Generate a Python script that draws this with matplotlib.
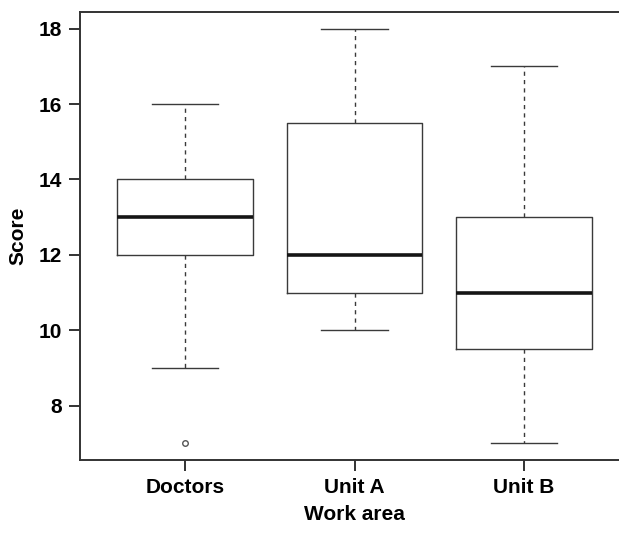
import matplotlib
matplotlib.use("Agg")
import matplotlib.pyplot as plt

groups = ["Doctors", "Unit A", "Unit B"]
whisker_low = [9, 10, 7]
q1 = [12, 11, 9.5]
median = [13, 12, 11]
q3 = [14, 15.5, 13]
whisker_high = [16, 18, 17]
outliers = [[7], [], []]

plt.rcParams["font.family"] = ["Liberation Sans", "DejaVu Sans"]
plt.rcParams["font.weight"] = "bold"

fig = plt.figure(figsize=(6.19, 5.48), dpi=100)
ax = fig.add_axes([80 / 619, 88 / 548, (629 - 80) / 619, (460 - 12) / 548])

stats = []
for i, g in enumerate(groups):
    stats.append({
        "label": g, "whislo": whisker_low[i], "q1": q1[i], "med": median[i],
        "q3": q3[i], "whishi": whisker_high[i], "fliers": outliers[i],
    })

line_col = "#3a3a3a"
ax.bxp(stats, positions=[1, 2, 3], widths=0.8,
       boxprops=dict(color=line_col, linewidth=1.0),
       medianprops=dict(color="#151515", linewidth=2.6),
       whiskerprops=dict(color=line_col, linewidth=1.0, linestyle=(0, (3, 3))),
       capprops=dict(color=line_col, linewidth=1.0),
       capwidths=0.39,
       flierprops=dict(marker="o", markersize=4, markerfacecolor="none",
                       markeredgecolor="#555555", markeredgewidth=1.0))

ax.set_xlim(0.38, 3.62)
ax.set_ylim(6.56, 18.44)
ax.set_yticks([8, 10, 12, 14, 16, 18])
ax.set_xticks([1, 2, 3])
ax.set_xticklabels(groups)

ax.spines["right"].set_visible(False)
for s in ["left", "bottom", "top"]:
    ax.spines[s].set_linewidth(1.4)
    ax.spines[s].set_color("#333333")
ax.tick_params(axis="both", length=8, width=1.4, color="#333333",
               labelsize=15, pad=5)
ax.set_xlabel("Work area", fontsize=15, fontweight="bold", labelpad=6)
ax.set_ylabel("Score", fontsize=15, fontweight="bold", labelpad=8)

fig.savefig("out.png", dpi=100)
